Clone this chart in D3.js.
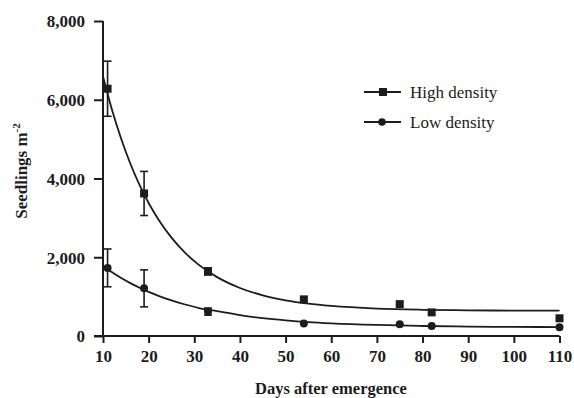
<!DOCTYPE html>
<html><head><meta charset="utf-8">
<script src="https://cdn.jsdelivr.net/npm/d3@7"></script>
<style>body{margin:0;background:#fff}svg{display:block}</style>
</head><body>
<script>
// ---- data ----
const days = [11, 19, 33, 54, 75, 82, 110];
const highDensity = [6280, 3620, 1640, 930, 810, 600, 450];
const highErr = [700, 560, 90, 0, 0, 0, 0];
const lowDensity = [1730, 1210, 620, 320, 300, 255, 220];
const lowErr = [480, 470, 90, 0, 0, 0, 0];
const curveDays = [10, 12, 14, 16, 18, 20, 22, 25, 28, 31, 35, 40, 45, 50, 55, 60, 70, 80, 90, 100, 110];
const highCurve = [6590, 5735, 5003, 4374, 3837, 3378, 2985, 2498, 2112, 1806, 1495, 1220, 1033, 907, 821, 763, 696, 666, 652, 646, 643];
const lowCurve = [1780, 1618, 1472, 1342, 1225, 1120, 1026, 903, 800, 711, 630, 530, 452, 396, 353, 322, 280, 254, 239, 231, 226];
const xTicks = [10, 20, 30, 40, 50, 60, 70, 80, 90, 100, 110];
const yTicks = [0, 2000, 4000, 6000, 8000];
const seriesNames = ["High density", "Low density"];

const W = 574, H = 398;
const ink = "#1c1c1c";
const svg = d3.select("body").append("svg").attr("width", W).attr("height", H);
const x = d3.scaleLinear().domain([10, 110]).range([103, 559.5]);
const y = d3.scaleLinear().domain([0, 8000]).range([336, 21]);
const serif = "'Liberation Serif','Times New Roman',serif";

// axes
const yAxis = svg.append("g").attr("transform", "translate(103,0)")
  .call(d3.axisLeft(y).tickValues(yTicks).tickSize(9).tickSizeOuter(0).tickFormat(d3.format(",")));
const xAxis = svg.append("g").attr("transform", "translate(0,336)")
  .call(d3.axisBottom(x).tickValues(xTicks).tickSize(7).tickSizeOuter(0));
[yAxis, xAxis].forEach(g => {
  g.select(".domain").attr("stroke", ink).attr("stroke-width", 2);
  g.selectAll(".tick line").attr("stroke", ink).attr("stroke-width", 2);
  g.selectAll(".tick text").attr("fill", ink).attr("font-family", serif)
    .attr("font-weight", "bold").attr("font-size", 17);
});
yAxis.select(".domain").attr("d", "M0,21V336");
xAxis.select(".domain").attr("d", `M94,0H${x(110)}`);
yAxis.selectAll(".tick text").attr("x", -18).attr("dy", "0.35em");
xAxis.selectAll(".tick text").attr("y", 14);

// axis titles
svg.append("text").attr("transform", "translate(27,171) rotate(-90)")
  .attr("text-anchor", "middle").attr("font-family", serif).attr("font-weight", "bold")
  .attr("font-size", 17).attr("fill", ink)
  .html('Seedlings m<tspan dy="-7" font-size="11">-2</tspan>');
svg.append("text").attr("x", 331).attr("y", 394).attr("text-anchor", "middle")
  .attr("font-family", serif).attr("font-weight", "bold").attr("font-size", 16.5)
  .attr("fill", ink).text("Days after emergence");

// fitted curves
const line = d3.line().x(d => x(d[0])).y(d => y(d[1])).curve(d3.curveMonotoneX);
[highCurve, lowCurve].forEach(c => {
  svg.append("path").datum(curveDays.map((d, i) => [d, c[i]]))
    .attr("d", line).attr("fill", "none").attr("stroke", ink).attr("stroke-width", 1.8);
});

// error bars
function errBars(vals, errs) {
  days.forEach((d, i) => {
    if (!errs[i]) return;
    const cx = x(d), t = y(vals[i] + errs[i]), b = y(vals[i] - errs[i]);
    const g = svg.append("g").attr("stroke", ink).attr("stroke-width", 1.6);
    g.append("line").attr("x1", cx).attr("x2", cx).attr("y1", t).attr("y2", b);
    g.append("line").attr("x1", cx - 4).attr("x2", cx + 4).attr("y1", t).attr("y2", t);
    g.append("line").attr("x1", cx - 4).attr("x2", cx + 4).attr("y1", b).attr("y2", b);
  });
}
errBars(highDensity, highErr);
errBars(lowDensity, lowErr);

// markers
svg.selectAll("rect.hi").data(days).enter().append("rect")
  .attr("x", (d) => x(d) - 4).attr("y", (d, i) => y(highDensity[i]) - 4)
  .attr("width", 8).attr("height", 8).attr("fill", ink);
svg.selectAll("circle.lo").data(days).enter().append("circle")
  .attr("cx", d => x(d)).attr("cy", (d, i) => y(lowDensity[i])).attr("r", 4).attr("fill", ink);

// legend
const leg = svg.append("g");
[0, 1].forEach(i => {
  const ly = 92 + i * 30;
  leg.append("line").attr("x1", 364).attr("x2", 401).attr("y1", ly).attr("y2", ly)
    .attr("stroke", ink).attr("stroke-width", 1.8);
  if (i === 0) leg.append("rect").attr("x", 379).attr("y", ly - 4).attr("width", 8).attr("height", 8).attr("fill", ink);
  else leg.append("circle").attr("cx", 382).attr("cy", ly).attr("r", 3.8).attr("fill", ink);
  leg.append("text").attr("x", 410).attr("y", ly).attr("dy", "0.35em")
    .attr("font-family", serif).attr("font-size", 17).attr("fill", ink).text(seriesNames[i]);
});
</script>
</body></html>
